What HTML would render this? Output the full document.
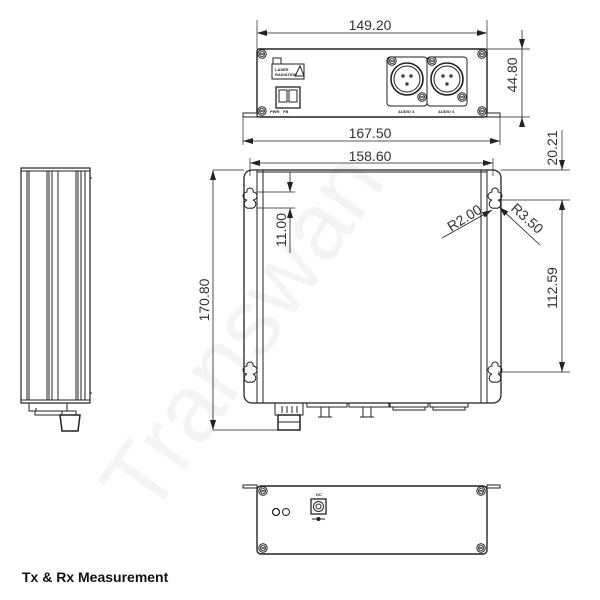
<!DOCTYPE html>
<html><head><meta charset="utf-8"><style>
html,body{margin:0;padding:0;background:#fff;}
svg{display:block;}
text{font-family:"Liberation Sans",sans-serif;}
</style></head><body>
<svg width="600" height="600" viewBox="0 0 600 600" xmlns="http://www.w3.org/2000/svg">
<defs>
<marker id="a" viewBox="0 0 10 6" refX="10" refY="3" markerWidth="10" markerHeight="6" orient="auto-start-reverse" markerUnits="userSpaceOnUse"><path d="M0,0L10,3L0,6z" fill="#222"/></marker>
<g id="scr"><circle r="4.2" fill="#fff" stroke="#222" stroke-width="1"/><circle r="2.6" fill="none" stroke="#222" stroke-width="0.8"/><path d="M-2,-1.2L2,1.2M-2,1.2L2,-1.2" stroke="#222" stroke-width="0.7"/></g>
<path id="kh" d="M0,-10 a3,3 0 0 1 3,4 a4,4 0 0 1 0,8 a3,3 0 0 1 -3,8 a3,3 0 0 1 -3,-8 a4,4 0 0 1 0,-8 a3,3 0 0 1 3,-4z" fill="none" stroke="#222" stroke-width="1"/>
</defs>
<text x="0" y="0" transform="translate(150,520) rotate(-55)" font-size="95" fill="#f4f4f4">Transwan</text>

<g stroke="#222" fill="none" stroke-width="1">
<!-- TOP VIEW -->
<rect x="257" y="49" width="230" height="68" rx="2" stroke-width="1.4"/>
<rect x="243" y="113" width="14" height="4" fill="#fff"/>
<rect x="487" y="113" width="13" height="4" fill="#fff"/>
<line x1="257" y1="20" x2="257" y2="49" stroke-width="0.7"/>
<line x1="487" y1="20" x2="487" y2="49" stroke-width="0.7"/>
<line x1="257" y1="33" x2="487" y2="33" marker-start="url(#a)" marker-end="url(#a)" stroke-width="0.8"/>
<line x1="487" y1="49" x2="530" y2="49" stroke-width="0.7"/>
<line x1="500" y1="117" x2="530" y2="117" stroke-width="0.7"/>
<line x1="522" y1="30" x2="522" y2="49" marker-end="url(#a)" stroke-width="0.8"/>
<line x1="522" y1="127" x2="522" y2="117" marker-end="url(#a)" stroke-width="0.8"/>
<line x1="522" y1="49" x2="522" y2="117" stroke-width="0.8"/>
<line x1="243" y1="117" x2="243" y2="145" stroke-width="0.7"/>
<line x1="500" y1="117" x2="500" y2="145" stroke-width="0.7"/>
<line x1="243" y1="141" x2="500" y2="141" marker-start="url(#a)" marker-end="url(#a)" stroke-width="0.8"/>
<line x1="250" y1="158" x2="250" y2="176" stroke-width="0.7"/>
<line x1="493" y1="158" x2="493" y2="176" stroke-width="0.7"/>
<line x1="250" y1="163" x2="493" y2="163" marker-start="url(#a)" marker-end="url(#a)" stroke-width="0.8"/>
<rect x="387" y="57" width="40" height="49" rx="3"/>
<rect x="427" y="57" width="40" height="49" rx="3"/>
<circle cx="407" cy="79" r="16" stroke-width="1.6"/><circle cx="407" cy="79" r="13"/>
<circle cx="447" cy="79" r="16" stroke-width="1.6"/><circle cx="447" cy="79" r="13"/>
<rect x="272" y="64" width="32" height="15"/>
<rect x="273" y="58" width="8" height="6"/>
<path d="M295,76 L300,66 L304,76z"/>
<rect x="276" y="87" width="24" height="21" stroke-width="1.3"/>
<rect x="279" y="90" width="8" height="12"/><rect x="289" y="90" width="8" height="12"/>

<!-- MAIN VIEW -->
<rect x="244" y="170" width="257" height="233" rx="8" stroke-width="1.3"/>
<line x1="257" y1="170" x2="257" y2="403"/><line x1="263" y1="170" x2="263" y2="403"/>
<line x1="481" y1="170" x2="481" y2="403"/><line x1="487" y1="170" x2="487" y2="403"/>
<line x1="257" y1="172" x2="487" y2="172"/>
<rect x="275" y="403" width="28" height="12"/>
<line x1="282" y1="406" x2="282" y2="413"/><line x1="287" y1="406" x2="287" y2="413"/><line x1="292" y1="406" x2="292" y2="413"/><line x1="297" y1="406" x2="297" y2="413"/>
<rect x="278" y="415" width="22" height="15" stroke-width="1.5"/>
<line x1="278" y1="422" x2="300" y2="422"/>
<path d="M307,403v4h40v-4M310,407h34M321,407v10h8v-10M318,417h14"/>
<path d="M349,403v4h40v-4M352,407h34M363,407v10h8v-10M360,417h14"/>
<path d="M390,403v4h38v-4M393,407h32v3h-32z"/>
<path d="M430,403v4h38v-4M433,407h32v3h-32z"/>
<line x1="213" y1="170" x2="244" y2="170" stroke-width="0.7"/>
<line x1="213" y1="430" x2="278" y2="430" stroke-width="0.7"/>
<line x1="213" y1="170" x2="213" y2="430" marker-start="url(#a)" marker-end="url(#a)" stroke-width="0.8"/>
<line x1="257" y1="192" x2="295" y2="192" stroke-width="0.7"/>
<line x1="257" y1="208" x2="295" y2="208" stroke-width="0.7"/>
<line x1="290" y1="172" x2="290" y2="192" marker-end="url(#a)" stroke-width="0.8"/>
<line x1="290" y1="253" x2="290" y2="208" marker-end="url(#a)" stroke-width="0.8"/>
<line x1="501" y1="170" x2="570" y2="170" stroke-width="0.7"/>
<line x1="498" y1="200" x2="570" y2="200" stroke-width="0.7"/>
<line x1="498" y1="372" x2="570" y2="372" stroke-width="0.7"/>
<line x1="562" y1="130" x2="562" y2="170" stroke-width="0.7"/>
<line x1="562" y1="160" x2="562" y2="170" marker-end="url(#a)" stroke-width="0.8"/>
<line x1="562" y1="210" x2="562" y2="200" marker-end="url(#a)" stroke-width="0.8"/>
<line x1="562" y1="200" x2="562" y2="372" marker-start="url(#a)" marker-end="url(#a)" stroke-width="0.8"/>
<line x1="442" y1="238" x2="492" y2="210" marker-end="url(#a)" stroke-width="0.8"/>
<line x1="540" y1="245" x2="499" y2="207" marker-end="url(#a)" stroke-width="0.8"/>

<!-- SIDE VIEW -->
<rect x="21" y="168" width="69" height="235" stroke-width="1.2"/>
<line x1="21" y1="171" x2="90" y2="171"/>
<line x1="21" y1="400" x2="90" y2="400"/>
<line x1="27" y1="171" x2="27" y2="400"/>
<line x1="29" y1="171" x2="29" y2="400"/>
<line x1="47" y1="171" x2="47" y2="400"/>
<line x1="49" y1="171" x2="49" y2="400"/>
<line x1="52" y1="171" x2="52" y2="400"/>
<line x1="58" y1="171" x2="58" y2="400"/>
<line x1="76" y1="171" x2="76" y2="400"/>
<line x1="78" y1="171" x2="78" y2="400"/>
<line x1="81" y1="171" x2="81" y2="400"/>
<line x1="85" y1="171" x2="85" y2="400"/>
<line x1="90" y1="178" x2="92" y2="178"/><line x1="90" y1="393" x2="92" y2="393"/>
<path d="M29,403v8h38v-8M35,411v4h30M36,411v-3"/>
<rect x="62" y="411" width="14" height="4"/>
<path d="M60,415h20l-2,16h-16z" stroke-width="1.5"/>

<!-- BOTTOM VIEW -->
<rect x="257" y="486" width="230" height="68" rx="4" stroke-width="1.4"/>
<rect x="243" y="485" width="14" height="3" fill="#fff"/>
<rect x="487" y="485" width="13" height="3" fill="#fff"/>
<rect x="311" y="499" width="15" height="15" stroke-width="1.3"/>
<circle cx="318.5" cy="506.5" r="5"/><circle cx="318.5" cy="506.5" r="2.5"/>
<line x1="312" y1="519" x2="325" y2="519"/><circle cx="318.5" cy="519" r="1.5" fill="#222"/>
<circle cx="276" cy="512" r="3.5" stroke-width="1.3"/>
<circle cx="286" cy="512" r="3.5"/>
</g>
<g>
<use href="#scr" x="262" y="54"/><use href="#scr" x="482" y="54"/>
<use href="#scr" x="262" y="111"/><use href="#scr" x="482" y="111"/>
<use href="#scr" x="392" y="61"/><use href="#scr" x="422" y="97"/>
<use href="#scr" x="432" y="61"/><use href="#scr" x="462" y="97"/>
<use href="#scr" x="263" y="491"/><use href="#scr" x="481" y="491"/>
<use href="#scr" x="263" y="548"/><use href="#scr" x="481" y="548"/>
<use href="#kh" x="250" y="198"/><use href="#kh" x="250" y="372"/>
<use href="#kh" x="495" y="198"/><use href="#kh" x="495" y="372"/>
</g>
<g fill="#444">
<circle cx="403" cy="76" r="1.8"/><circle cx="411" cy="76" r="1.8"/><circle cx="407" cy="84" r="1.8"/>
<circle cx="443" cy="76" r="1.8"/><circle cx="451" cy="76" r="1.8"/><circle cx="447" cy="84" r="1.8"/>
</g>
<g font-size="4" font-weight="bold" fill="#222">
<text x="398" y="113">AUDIO 3</text><text x="438" y="113">AUDIO 4</text>
<text x="270" y="113">PWR</text><text x="283" y="113">FB</text>
<text x="275" y="71">LASER</text><text x="275" y="76">RADIATION</text>
<text x="316" y="496">DC</text>
</g>
<g font-size="14" fill="#333">
<text x="370" y="30" text-anchor="middle">149.20</text>
<text x="370" y="138" text-anchor="middle">167.50</text>
<text x="370" y="161" text-anchor="middle">158.60</text>
<text transform="translate(517,75) rotate(-90)" text-anchor="middle">44.80</text>
<text transform="translate(209,300) rotate(-90)" text-anchor="middle">170.80</text>
<text transform="translate(286,230) rotate(-90)" text-anchor="middle">11.00</text>
<text transform="translate(557,288) rotate(-90)" text-anchor="middle">112.59</text>
<text transform="translate(557,148) rotate(-90)" text-anchor="middle">20.21</text>
<text transform="translate(467,222) rotate(-32)" text-anchor="middle">R2.00</text>
<text transform="translate(524,222) rotate(42)" text-anchor="middle">R3.50</text>
</g>
<text x="22" y="582" font-size="14" font-weight="bold" fill="#111">Tx &amp; Rx Measurement</text>
</svg>
</body></html>
